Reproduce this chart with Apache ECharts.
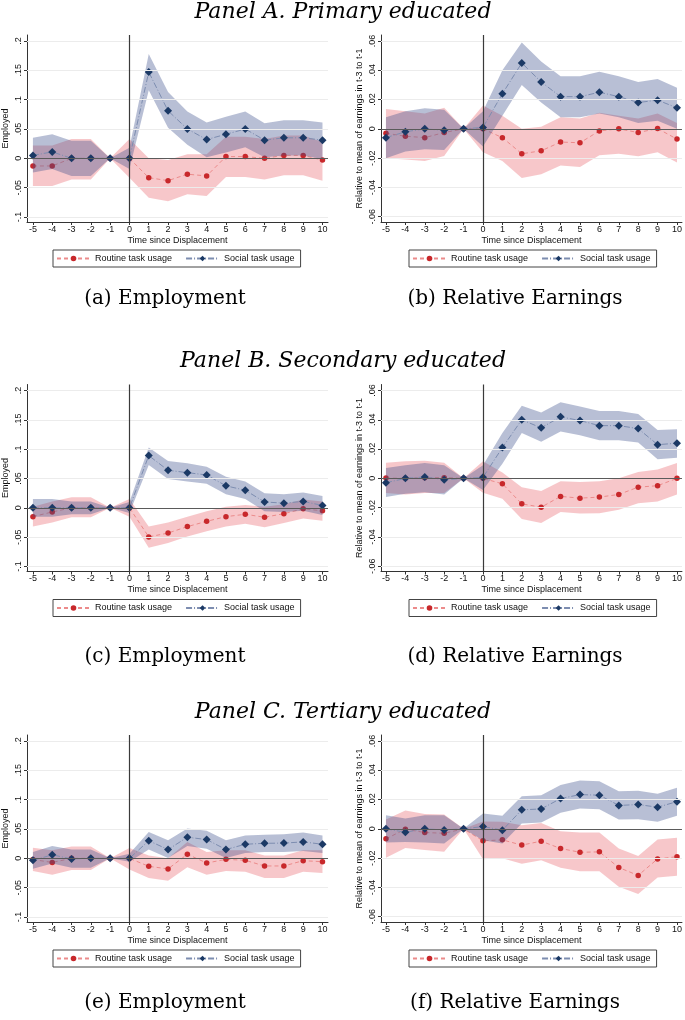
<!DOCTYPE html>
<html>
<head>
<meta charset="utf-8">
<script src="https://cdn.jsdelivr.net/npm/echarts@6/dist/echarts.min.js"></script>
<style>
html,body{margin:0;padding:0;background:#fff;}
#chart{width:685px;height:1020px;}
</style>
</head>
<body>
<div id="chart"></div>
<script>
// ---------------- DATA ----------------
const X = [-5,-4,-3,-2,-1,0,1,2,3,4,5,6,7,8,9,10];
const X_TICKS = [-5,-4,-3,-2,-1,0,1,2,3,4,5,6,7,8,9,10];
const EMP_TICKS = [-0.1,-0.05,0,0.05,0.1,0.15,0.2];
const EARN_TICKS = [-0.06,-0.04,-0.02,0,0.02,0.04,0.06];

const TITLES = ['Panel A. Primary educated','Panel B. Secondary educated','Panel C. Tertiary educated'];
const CAPTIONS = ['(a) Employment','(b) Relative Earnings','(c) Employment','(d) Relative Earnings','(e) Employment','(f) Relative Earnings'];
const SERIES_NAMES = ['Routine task usage','Social task usage'];
const X_NAME = 'Time since Displacement';
const Y_NAME_EMP = 'Employed';
const Y_NAME_EARN = 'Relative to mean of earnings in t-3 to t-1';

// Panel A - Employment
const A_emp_routine    = [-0.013,-0.013,0,0,0,0,-0.033,-0.038,-0.027,-0.030,0.003,0.003,0,0.005,0.005,-0.003];
const A_emp_routine_lo = [-0.047,-0.047,-0.036,-0.036,0,-0.033,-0.067,-0.073,-0.061,-0.064,-0.032,-0.032,-0.036,-0.029,-0.029,-0.038];
const A_emp_routine_hi = [0.022,0.022,0.033,0.033,0,0.033,0.000,-0.003,0.007,0.007,0.037,0.037,0.033,0.039,0.039,0.028];
const A_emp_social     = [0.005,0.011,0,0,0,0,0.147,0.081,0.050,0.032,0.041,0.050,0.031,0.035,0.035,0.031];
const A_emp_social_lo  = [-0.024,-0.018,-0.030,-0.030,0,-0.018,0.116,0.052,0.023,0.002,0.010,0.019,0.002,0.005,0.005,-0.001];
const A_emp_social_hi  = [0.035,0.041,0.030,0.030,0,0.018,0.178,0.113,0.080,0.061,0.071,0.080,0.060,0.065,0.065,0.061];

// Panel A - Earnings
const A_earn_routine    = [-0.003,-0.005,-0.006,-0.0025,0,0,-0.006,-0.017,-0.015,-0.009,-0.0095,-0.0014,0,-0.0025,0.0002,-0.007];
const A_earn_routine_lo = [-0.020,-0.021,-0.022,-0.0185,0,-0.016,-0.022,-0.0335,-0.031,-0.025,-0.026,-0.018,-0.017,-0.0187,-0.016,-0.023];
const A_earn_routine_hi = [0.0135,0.012,0.0105,0.0145,0,0.016,0.009,0,0.0015,0.008,0.007,0.011,0.009,0.007,0.0105,0.004];
const A_earn_social     = [-0.006,-0.002,0,-0.001,0,0.001,0.024,0.045,0.032,0.022,0.022,0.025,0.022,0.018,0.0196,0.0144];
const A_earn_social_lo  = [-0.020,-0.0155,-0.014,-0.0145,0,-0.012,0.009,0.030,0.018,0.008,0.008,0.0105,0.008,0.004,0.0055,0.000];
const A_earn_social_hi  = [0.008,0.012,0.014,0.013,0,0.012,0.040,0.059,0.046,0.036,0.036,0.039,0.036,0.032,0.034,0.028];

// Panel B - Employment
const B_emp_routine    = [-0.015,-0.007,0,0,0,0,-0.0495,-0.043,-0.032,-0.023,-0.015,-0.011,-0.016,-0.010,-0.0017,-0.005];
const B_emp_routine_lo = [-0.032,-0.025,-0.016,-0.016,0,-0.015,-0.068,-0.060,-0.049,-0.040,-0.032,-0.027,-0.033,-0.026,-0.018,-0.022];
const B_emp_routine_hi = [0.002,0.011,0.018,0.018,0,0.015,-0.032,-0.025,-0.015,-0.006,0.002,0.005,0.002,0.006,0.014,0.011];
const B_emp_social     = [0,0,0,0,0,0,0.089,0.064,0.060,0.056,0.0375,0.030,0.010,0.008,0.011,0.004];
const B_emp_social_lo  = [-0.015,-0.015,-0.011,-0.011,0,-0.009,0.073,0.049,0.045,0.041,0.023,0.015,-0.006,-0.007,-0.005,-0.012];
const B_emp_social_hi  = [0.015,0.015,0.011,0.011,0,0.010,0.103,0.080,0.076,0.070,0.053,0.045,0.025,0.023,0.026,0.020];

// Panel B - Earnings
const B_earn_routine    = [0.0002,0,0.0005,0.0005,0,0,-0.0037,-0.0174,-0.0197,-0.0123,-0.0135,-0.0128,-0.011,-0.006,-0.005,0];
const B_earn_routine_lo = [-0.010,-0.011,-0.010,-0.010,0,-0.0098,-0.014,-0.0277,-0.0304,-0.023,-0.024,-0.0238,-0.0215,-0.017,-0.0158,-0.011];
const B_earn_routine_hi = [0.0107,0.0117,0.012,0.0107,0,0.0117,0.004,-0.006,-0.0087,-0.002,-0.0025,-0.002,0,0.0043,0.006,0.0105];
const B_earn_social     = [-0.003,0,0.001,-0.001,0,0.0007,0.021,0.040,0.0345,0.042,0.0395,0.036,0.036,0.034,0.023,0.024];
const B_earn_social_lo  = [-0.0128,-0.0105,-0.0094,-0.011,0,-0.008,0.010,0.031,0.025,0.032,0.0295,0.026,0.026,0.0245,0.013,0.014];
const B_earn_social_hi  = [0.007,0.009,0.0105,0.009,0,0.009,0.031,0.0496,0.045,0.052,0.049,0.046,0.046,0.044,0.033,0.0336];

// Panel C - Employment
const C_emp_routine    = [-0.002,-0.007,0,0,0,0,-0.0136,-0.018,0.007,-0.008,-0.0017,-0.0034,-0.013,-0.013,-0.004,-0.0057];
const C_emp_routine_lo = [-0.0216,-0.028,-0.020,-0.020,0,-0.019,-0.0335,-0.038,-0.015,-0.028,-0.0216,-0.023,-0.0335,-0.0335,-0.023,-0.025];
const C_emp_routine_hi = [0.018,0.0136,0.020,0.020,0,0.0176,0.005,0,0.028,0.011,0.0136,0.0136,0.005,0.005,0.0136,0.0136];
const C_emp_social     = [-0.0034,0.006,-0.001,0,0,0,0.030,0.015,0.036,0.032,0.015,0.024,0.0256,0.026,0.028,0.024];
const C_emp_social_lo  = [-0.0176,-0.009,-0.016,-0.016,0,-0.006,0.015,0.0006,0.021,0.0165,0.0006,0.009,0.011,0.011,0.0125,0.009];
const C_emp_social_hi  = [0.011,0.021,0.015,0.015,0,0.008,0.045,0.031,0.051,0.047,0.031,0.039,0.040,0.041,0.044,0.039];

// Panel C - Earnings
const C_earn_routine    = [-0.0068,-0.0002,-0.0025,-0.003,0,-0.0082,-0.0075,-0.0111,-0.0084,-0.0134,-0.016,-0.0157,-0.0264,-0.0318,-0.0205,-0.019];
const C_earn_routine_lo = [-0.0198,-0.013,-0.0145,-0.0157,0,-0.0207,-0.020,-0.0239,-0.0214,-0.0266,-0.0289,-0.0289,-0.0395,-0.0445,-0.0332,-0.032];
const C_earn_routine_hi = [0.0064,0.0125,0.0102,0.0098,0,0.005,0.0048,0.0025,0.004,-0.0016,-0.0025,-0.0025,-0.0134,-0.0186,-0.0073,-0.0061];
const C_earn_social     = [0,-0.0023,0,-0.0007,0,0.0016,-0.0009,0.013,0.0136,0.0207,0.0234,0.023,0.016,0.0166,0.0148,0.0186];
const C_earn_social_lo  = [-0.0093,-0.0089,-0.0093,-0.01,0,-0.0077,-0.01,0.0036,0.0043,0.011,0.0139,0.0134,0.0064,0.0066,0.0048,0.0089];
const C_earn_social_hi  = [0.0093,0.007,0.0093,0.0093,0,0.0105,0.0089,0.0223,0.023,0.030,0.033,0.0325,0.0257,0.026,0.024,0.028];

// ---------------- LAYOUT / STYLE ----------------
const SANS = '"Liberation Sans", Arial, Helvetica, sans-serif';
const SERIF = '"DejaVu Serif", serif';
const ROW_TOP = [35, 384.5, 735];
const PLOT_H = 187;
const COLS = [
  {left: 23, width: 305, xmin: -5.307, xmax: 10.286, ymin: -0.1085, ymax: 0.2102, ticks: EMP_TICKS, yname: Y_NAME_EMP, legendLeft: 53},
  {left: 381, width: 303, xmin: -5.256, xmax: 10.256, ymin: -0.0636, ymax: 0.0641, ticks: EARN_TICKS, yname: Y_NAME_EARN, legendLeft: 409}
];
const TITLE_Y = [12, 361, 712];
const CAPTION_Y = [299, 657, 1003];
const CAPTION_X = [165, 515];

const RED_BAND = 'rgba(228,70,78,0.30)';
const BLUE_BAND = 'rgba(58,78,138,0.36)';
const RED_LINE = '#ec8b8b';
const RED_MARK = '#c8282b';
const BLUE_LINE = '#7d8db0';
const BLUE_MARK = '#1b3965';

const PANELS = [
  [A_emp_routine, A_emp_routine_lo, A_emp_routine_hi, A_emp_social, A_emp_social_lo, A_emp_social_hi],
  [A_earn_routine, A_earn_routine_lo, A_earn_routine_hi, A_earn_social, A_earn_social_lo, A_earn_social_hi],
  [B_emp_routine, B_emp_routine_lo, B_emp_routine_hi, B_emp_social, B_emp_social_lo, B_emp_social_hi],
  [B_earn_routine, B_earn_routine_lo, B_earn_routine_hi, B_earn_social, B_earn_social_lo, B_earn_social_hi],
  [C_emp_routine, C_emp_routine_lo, C_emp_routine_hi, C_emp_social, C_emp_social_lo, C_emp_social_hi],
  [C_earn_routine, C_earn_routine_lo, C_earn_routine_hi, C_earn_social, C_earn_social_lo, C_earn_social_hi]
];

function stataFmt(v) {
  if (Math.abs(v) < 1e-9) return '0';
  let s = String(parseFloat(v.toFixed(3)));
  s = s.replace(/^0\./, '.').replace(/^-0\./, '-.');
  return s;
}

function bandRender(xs, lo, hi, color) {
  return function (params, api) {
    if (params.dataIndex !== 0) return null;
    const pts = [];
    for (let i = 0; i < xs.length; i++) pts.push(api.coord([xs[i], hi[i]]));
    for (let i = xs.length - 1; i >= 0; i--) pts.push(api.coord([xs[i], lo[i]]));
    return {type: 'polygon', shape: {points: pts}, style: {fill: color, stroke: null}, silent: true};
  };
}

const grids = [], xAxes = [], yAxes = [], series = [], legends = [], graphics = [];

PANELS.forEach((p, k) => {
  const row = Math.floor(k / 2), col = k % 2;
  const c = COLS[col];
  const top = ROW_TOP[row];
  grids.push({left: c.left, top: top, width: c.width, height: PLOT_H, containLabel: false});
  xAxes.push({
    gridIndex: k, type: 'value', min: c.xmin, max: c.xmax,
    axisLine: {show: true, onZero: false, lineStyle: {color: '#333', width: 1}},
    axisTick: {show: true, customValues: X_TICKS, length: 3, lineStyle: {color: '#333', width: 1}},
    axisLabel: {customValues: X_TICKS, fontSize: 9, fontFamily: SANS, color: '#111', margin: 3, formatter: v => String(v)},
    splitLine: {show: false},
    name: X_NAME, nameLocation: 'middle', nameGap: 14,
    nameTextStyle: {fontSize: 9, fontFamily: SANS, color: '#111'}
  });
  yAxes.push({
    gridIndex: k, type: 'value', min: c.ymin, max: c.ymax,
    axisLine: {show: true, onZero: false, lineStyle: {color: '#333', width: 1}},
    axisTick: {show: true, customValues: c.ticks, length: 3, lineStyle: {color: '#333', width: 1}},
    axisLabel: {customValues: c.ticks, rotate: 90, fontSize: 9, fontFamily: SANS, color: '#111', margin: 4, formatter: stataFmt},
    splitLine: {show: false},
    name: c.yname, nameLocation: 'middle', nameGap: 17, nameRotate: 90,
    nameTextStyle: {fontSize: 9, fontFamily: SANS, color: '#111'}
  });

  const [r, rlo, rhi, s, slo, shi] = p;
  // gridlines
  series.push({
    type: 'line', xAxisIndex: k, yAxisIndex: k, data: [[0, 0]], showSymbol: false,
    lineStyle: {opacity: 0}, z: 0, silent: true, animation: false, tooltip: {show: false},
    markLine: {silent: true, symbol: ['none', 'none'], label: {show: false}, animation: false,
      lineStyle: {color: '#ececec', width: 1, type: 'solid'},
      data: c.ticks.filter(t => Math.abs(t) > 1e-9).map(t => ({yAxis: t}))}
  });
  // red band
  series.push({
    type: 'custom', xAxisIndex: k, yAxisIndex: k, z: 1, silent: true, animation: false,
    data: X.map((x, i) => [x, rlo[i], rhi[i]]), encode: {x: 0, y: [1, 2]},
    renderItem: bandRender(X, rlo, rhi, RED_BAND)
  });
  // red line
  series.push({
    name: SERIES_NAMES[0], type: 'line', xAxisIndex: k, yAxisIndex: k, z: 2, animation: false,
    data: X.map((x, i) => [x, r[i]]),
    symbol: 'circle', symbolSize: 5.5, showSymbol: true,
    itemStyle: {color: RED_MARK},
    lineStyle: {color: RED_LINE, width: 1, type: [4, 3]}
  });
  // blue band
  series.push({
    type: 'custom', xAxisIndex: k, yAxisIndex: k, z: 3, silent: true, animation: false,
    data: X.map((x, i) => [x, slo[i], shi[i]]), encode: {x: 0, y: [1, 2]},
    renderItem: bandRender(X, slo, shi, BLUE_BAND)
  });
  // zero reference lines
  series.push({
    type: 'line', xAxisIndex: k, yAxisIndex: k, data: [[0, 0]], showSymbol: false,
    lineStyle: {opacity: 0}, z: 3.5, silent: true, animation: false,
    markLine: {silent: true, symbol: ['none', 'none'], label: {show: false}, animation: false,
      data: [
        {yAxis: 0, lineStyle: {color: '#5a5a5a', width: 1.1, type: 'solid'}},
        {xAxis: 0, lineStyle: {color: '#3a3a3a', width: 1.2, type: 'solid'}}
      ]}
  });
  // blue line
  series.push({
    name: SERIES_NAMES[1], type: 'line', xAxisIndex: k, yAxisIndex: k, z: 4, animation: false,
    data: X.map((x, i) => [x, s[i]]),
    symbol: 'diamond', symbolSize: 8, showSymbol: true,
    itemStyle: {color: BLUE_MARK},
    lineStyle: {color: BLUE_LINE, width: 1, type: [6, 2, 1, 2]}
  });

  legends.push({
    data: SERIES_NAMES, left: c.legendLeft, top: top + 215, orient: 'horizontal',
    borderColor: '#444', borderWidth: 1, borderRadius: 0, padding: [4, 6, 4, 3],
    itemWidth: 33, itemHeight: 7, itemGap: 13, selectedMode: false,
    textStyle: {fontSize: 9, fontFamily: SANS, color: '#111'}
  });

  graphics.push({
    type: 'text', x: CAPTION_X[col], y: CAPTION_Y[row],
    style: {text: CAPTIONS[k], font: '20px ' + SERIF, fill: '#000', align: 'center', verticalAlign: 'middle', textAlign: 'center', textVerticalAlign: 'middle'}
  });
});

TITLES.forEach((t, i) => {
  graphics.push({
    type: 'text', x: 343, y: TITLE_Y[i],
    style: {text: t, font: 'italic 22px ' + SERIF, fill: '#000', align: 'center', verticalAlign: 'middle', textAlign: 'center', textVerticalAlign: 'middle'}
  });
});

const chart = echarts.init(document.getElementById('chart'), null, {renderer: 'canvas'});
chart.setOption({
  backgroundColor: '#fff',
  animation: false,
  grid: grids, xAxis: xAxes, yAxis: yAxes,
  legend: legends,
  series: series,
  graphic: {elements: graphics}
});
</script>
</body>
</html>
